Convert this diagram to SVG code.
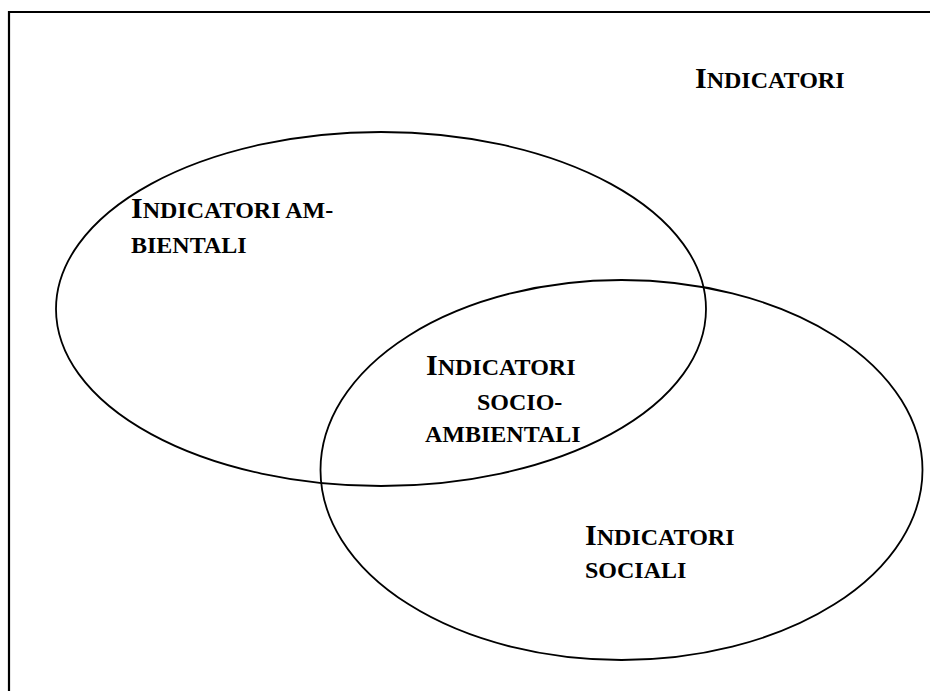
<svg xmlns="http://www.w3.org/2000/svg" width="930" height="691" viewBox="0 0 930 691">
<style>
.lbl{font-family:"Liberation Serif","Times New Roman",serif;font-weight:bold;fill:#000;font-size:24px}
.cap{font-size:30px}
.shape{fill:none;stroke:#000;stroke-width:1.8}
</style>
<rect width="930" height="691" fill="#fff"/>
<path d="M9,691 V12 H930" fill="none" stroke="#000" stroke-width="2.2"/>
<g id="title"><text class="lbl" x="695" y="88"><tspan class="cap">I</tspan>NDICATORI</text></g>
<g id="ambientali">
<ellipse class="shape" cx="381" cy="309" rx="325" ry="177"/>
<text class="lbl" x="131" y="218"><tspan class="cap">I</tspan>NDICATORI AM-</text>
<text class="lbl" x="131" y="253">BIENTALI</text>
</g>
<g id="sociali">
<ellipse class="shape" cx="621.5" cy="470" rx="301" ry="190"/>
<text class="lbl" x="585" y="545"><tspan class="cap">I</tspan>NDICATORI</text>
<text class="lbl" x="585" y="578">SOCIALI</text>
</g>
<g id="socioambientali">
<text class="lbl" x="426" y="375"><tspan class="cap">I</tspan>NDICATORI</text>
<text class="lbl" x="477" y="410">SOCIO-</text>
<text class="lbl" x="425" y="442">AMBIENTALI</text>
</g>
<g id="connectors"></g>
</svg>
